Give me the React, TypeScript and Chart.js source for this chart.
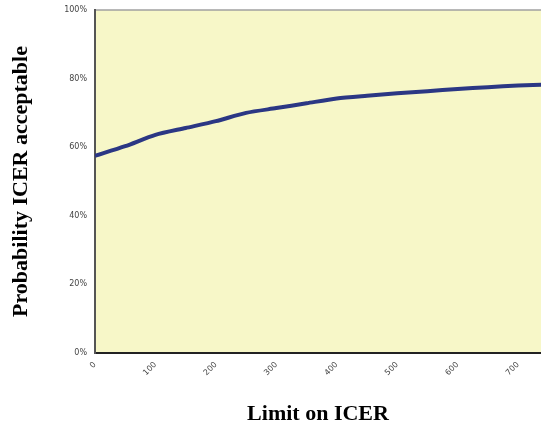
import React, { useEffect, useRef } from "react";
import { Chart, registerables } from "chart.js";

Chart.register(...registerables);

const limits = [0, 50, 100, 150, 200, 250, 300, 350, 400, 450, 500, 550, 600, 650, 700, 750];
const probability = [57.5, 60.3, 63.6, 65.6, 67.6, 70.0, 71.4, 72.8, 74.2, 75.0, 75.7, 76.3, 77.0, 77.5, 78.0, 78.3];
const yTickValues = [0, 20, 40, 60, 80, 100];
const xTickValues = [0, 100, 200, 300, 400, 500, 600, 700];

const bgPlugin = {
  id: "plotBg",
  beforeDraw(chart: any) {
    const { ctx, chartArea } = chart;
    ctx.save();
    ctx.fillStyle = "#F7F7C8";
    ctx.fillRect(chartArea.left, chartArea.top, chartArea.right - chartArea.left, chartArea.bottom - chartArea.top);
    ctx.strokeStyle = "#A0A0A0";
    ctx.lineWidth = 1.5;
    ctx.beginPath();
    ctx.moveTo(chartArea.left, chartArea.top);
    ctx.lineTo(chartArea.right, chartArea.top);
    ctx.stroke();
    ctx.restore();
  },
};

export default function App() {
  const ref = useRef<HTMLCanvasElement | null>(null);
  useEffect(() => {
    if (!ref.current) return;
    const chart = new Chart(ref.current, {
      type: "line",
      data: {
        datasets: [
          {
            data: limits.map((x, i) => ({ x, y: probability[i] })),
            borderColor: "#2B3784",
            borderWidth: 4,
            pointRadius: 0,
            tension: 0.25,
            fill: false,
          },
        ],
      },
      options: {
        animation: false,
        responsive: false,
        layout: { padding: { top: 10, left: 0, right: 0, bottom: 0 } },
        plugins: { legend: { display: false }, tooltip: { enabled: false } },
        scales: {
          x: {
            type: "linear",
            min: 0,
            max: 738,
            afterBuildTicks: (scale: any) => {
              scale.ticks = xTickValues.map((v) => ({ value: v }));
            },
            afterFit: (scale: any) => {
              scale.height = 76;
              scale.paddingLeft = 0;
              scale.paddingRight = 0;
            },
            grid: { display: false, drawTicks: false },
            border: { display: true, color: "#222", width: 2 },
            ticks: {
              minRotation: 45,
              maxRotation: 45,
              padding: 7,
              color: "#444",
              font: { family: "DejaVu Sans", size: 8 },
            },
            title: {
              display: true,
              text: "Limit on ICER",
              color: "#000",
              font: { family: "Liberation Serif", size: 22, weight: "bold" },
              padding: { top: 0, bottom: 1 },
            },
          },
          y: {
            min: 0,
            max: 100,
            afterBuildTicks: (scale: any) => {
              scale.ticks = yTickValues.map((v) => ({ value: v }));
            },
            afterFit: (scale: any) => {
              scale.width = 95;
              scale.paddingTop = 0;
              scale.paddingBottom = 0;
            },
            grid: { display: false, drawTicks: false },
            border: { display: true, color: "#555", width: 2 },
            ticks: {
              padding: 8,
              color: "#444",
              font: { family: "DejaVu Sans", size: 8 },
              callback: (v: any) => v + "%",
            },
            title: {
              display: true,
              text: "Probability ICER acceptable",
              color: "#000",
              font: { family: "Liberation Serif", size: 22, weight: "bold" },
              padding: { top: 8, bottom: 0 },
            },
          },
        },
      },
      plugins: [bgPlugin],
    });
    return () => chart.destroy();
  }, []);
  return (
    <canvas
      ref={ref}
      width={541}
      height={429}
      style={{ position: "absolute", left: 0, top: 0, display: "block" }}
    />
  );
}
